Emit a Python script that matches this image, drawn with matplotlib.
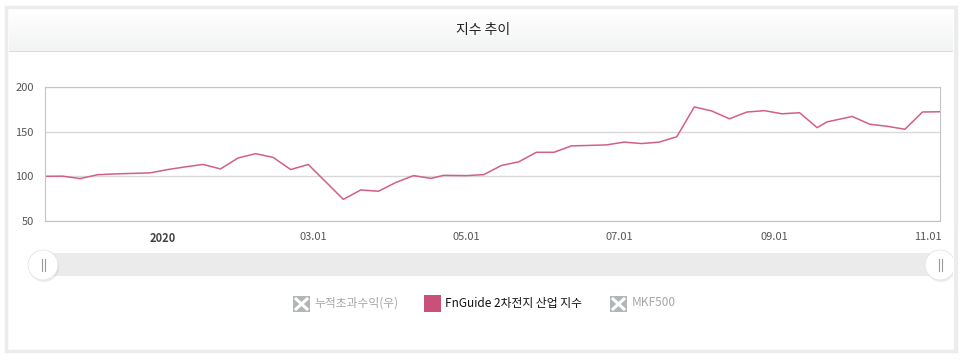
import numpy as np
import pandas as pd
import matplotlib
matplotlib.use('Agg')
import matplotlib.pyplot as plt
import matplotlib.dates as mdates
from matplotlib.patches import Rectangle, Circle

plt.rcParams['font.family'] = ['Noto Sans CJK KR', 'DejaVu Sans']

# weekly index values (FnGuide 2차전지 산업 지수, base 100)
dates = pd.date_range('2019-11-15', periods=52, freq='7D')
dates = dates.where(~dates.isin([pd.Timestamp('2020-04-24')]), pd.Timestamp('2020-04-22'))
dates = dates.where(~dates.isin([pd.Timestamp('2020-09-25')]), pd.Timestamp('2020-09-22'))
values = [100.0, 100.2, 97.5, 101.8, 102.7, 103.3, 103.9, 107.6, 110.6, 113.3,
          108.3, 120.5, 125.4, 121.2, 107.6, 113.3, 93.8, 74.2, 84.8, 83.3,
          93.2, 100.8, 97.7, 101.1, 100.8, 101.9, 112.1, 116.3, 126.9, 126.9,
          134.1, 134.6, 135.2, 138.3, 136.7, 138.3, 144.3, 177.7, 173.1, 164.4,
          172.0, 173.5, 170.0, 171.2, 154.5, 161.0, 167.0, 158.3, 156.0, 152.7,
          172.0, 172.3]
y_ticks = [50, 100, 150, 200]
title = '지수 추이'
legend_labels = ['누적초과수익(우)', 'FnGuide 2차전지 산업 지수', 'MKF500']

W, H = 967, 362
fig = plt.figure(figsize=(W / 100, H / 100), dpi=100)
fig.patch.set_facecolor('white')


def fx(x):
    return x / W


def fy(y):
    return 1 - y / H


def box(x0, y0, x1, y1, z=0.5, **kw):
    fig.add_artist(Rectangle((fx(x0), fy(y1)), fx(x1 - x0), (y1 - y0) / H,
                             transform=fig.transFigure, zorder=z, **kw))


# panel frame and header
box(6, 7, 956, 351, z=0.1, facecolor='white', edgecolor='#ececec', linewidth=2.5)
grad = np.linspace(1, 0, 64).reshape(-1, 1)
hdr = fig.add_axes([fx(9), fy(51), fx(944), 41 / H])
hdr.set_zorder(1)
hdr.imshow(grad, aspect='auto', cmap=matplotlib.colors.LinearSegmentedColormap.from_list(
    'g', ['#f2f3f3', '#ffffff']), extent=[0, 1, 0, 1])
hdr.axis('off')
box(9, 51, 953, 52, z=2, facecolor='#dcdcdc', edgecolor='none')
fig.text(fx(483), fy(30), title, ha='center', va='center', fontsize=10, color='#222222', zorder=3)

# main chart
ax = fig.add_axes([fx(45), fy(221), fx(895), 134 / H])
ax.set_zorder(2)
ax.plot(dates, values, color='#d25f8a', linewidth=1.1)
ax.set_xlim(pd.Timestamp('2019-11-15'), pd.Timestamp('2020-11-06'))
ax.set_ylim(50, 200)
ax.set_yticks(y_ticks)
ax.grid(axis='y', color='#d9d9d9', linewidth=1)
for s in ax.spines.values():
    s.set_color('#c4c4c4')
ax.tick_params(length=0, labelsize=8, labelcolor='#555555')
ax.tick_params(axis='y', pad=8)
ax.tick_params(axis='x', pad=8)
ax.xaxis.set_major_locator(mdates.MonthLocator(bymonth=[1, 3, 5, 7, 9, 11]))


def fmt(d, pos=None):
    d = mdates.num2date(d)
    return str(d.year) if d.month == 1 else d.strftime('%m.%d')


ax.xaxis.set_major_formatter(plt.FuncFormatter(fmt))
fig.canvas.draw()
for lab in ax.get_xticklabels():
    if lab.get_text() == '2020':
        lab.set_fontweight('bold')
        lab.set_color('#444444')

# navigator bar
box(45, 253, 940, 276, z=2, facecolor='#ebebeb', edgecolor='none')
for cx in (43, 940):
    c_in = (cx / 100, (H - 265) / 100)
    fig.add_artist(Circle((c_in[0] + 0.01, c_in[1] - 0.02), 0.15, transform=fig.dpi_scale_trans,
                          facecolor='#000000', alpha=0.07, edgecolor='none', zorder=3))
    fig.add_artist(Circle(c_in, 0.15, transform=fig.dpi_scale_trans,
                          facecolor='white', edgecolor='#e4e4e4', linewidth=0.6, zorder=3))
    for dx in (-1.5, 1.5):
        fig.add_artist(plt.Line2D([fx(cx + dx), fx(cx + dx)], [fy(259), fy(271)],
                                  transform=fig.transFigure, color='#999999', linewidth=0.8,
                                  zorder=4))
# clip the right handle at the panel edge
box(953, 230, 967, 290, z=5, facecolor='white', edgecolor='none')
box(953.5, 7, 957.5, 351, z=6, facecolor='#ececec', edgecolor='none')


# legend
def x_icon(x0, y0, x1, y1):
    box(x0, y0, x1, y1, z=3, facecolor='#b1b6b8', edgecolor='none')
    for a, b in (((x0 + 3, y0 + 3), (x1 - 3, y1 - 3)), ((x0 + 3, y1 - 3), (x1 - 3, y0 + 3))):
        fig.add_artist(plt.Line2D([fx(a[0]), fx(b[0])], [fy(a[1]), fy(b[1])],
                                  transform=fig.transFigure, color='white', linewidth=2.2,
                                  zorder=4))


x_icon(293, 296, 310, 312)
fig.text(fx(314), fy(303), legend_labels[0], ha='left', va='center', fontsize=8.5, color='#a6a6a6')
box(424, 295, 441, 312, z=3, facecolor='#c9507a', edgecolor='none')
fig.text(fx(445), fy(303), legend_labels[1], ha='left', va='center', fontsize=8.5, color='#111111')
x_icon(610, 296, 627, 312)
fig.text(fx(632), fy(303), legend_labels[2], ha='left', va='center', fontsize=8.5, color='#a6a6a6')

fig.savefig('out.png', dpi=100)
